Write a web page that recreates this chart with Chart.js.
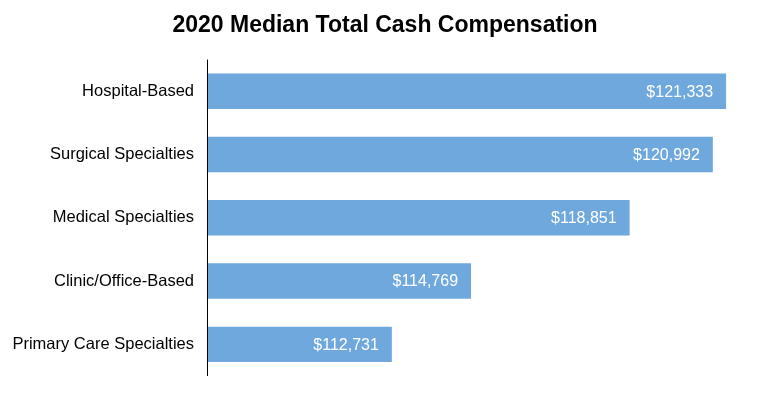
<!DOCTYPE html>
<html>
<head>
<meta charset="utf-8">
<script src="https://cdn.jsdelivr.net/npm/chart.js@4/dist/chart.umd.min.js"></script>
<style>
html,body{margin:0;padding:0;background:#fff;overflow:hidden;}
canvas{display:block;}
</style>
</head>
<body>
<canvas id="c" width="770" height="394" style="width:770px;height:394px"></canvas>
<script>
const categories = ["Hospital-Based", "Surgical Specialties", "Medical Specialties", "Clinic/Office-Based", "Primary Care Specialties"];
const medianComp = [121333, 120992, 118851, 114769, 112731];
const axisMin = 108000;
const axisMax = 122000;
const titleText = "2020 Median Total Cash Compensation";

const FONT = "'Liberation Sans', Arial, sans-serif";

const labelPlugin = {
  id: 'valueLabels',
  afterLayout(chart) {
    // centre the title across the whole canvas
    const tb = chart.titleBlock;
    if (tb) { tb.left = 0; tb.right = chart.width; tb.width = chart.width; }
  },
  afterDatasetsDraw(chart) {
    const ctx = chart.ctx;
    const meta = chart.getDatasetMeta(0);
    ctx.save();
    ctx.font = "16px " + FONT;
    ctx.fillStyle = "#ffffff";
    ctx.textAlign = "right";
    ctx.textBaseline = "middle";
    meta.data.forEach((bar, i) => {
      const v = chart.data.datasets[0].data[i];
      ctx.fillText("$" + v.toLocaleString("en-US"), bar.x - 13, bar.y + 1);
    });
    // redraw category axis line on top of the bars
    const ys = chart.scales.y;
    const x = Math.round(ys.right) - 0.5;
    ctx.strokeStyle = "#000";
    ctx.lineWidth = 1;
    ctx.beginPath();
    ctx.moveTo(x, ys.top);
    ctx.lineTo(x, ys.bottom);
    ctx.stroke();
    ctx.restore();
  }
};

new Chart(document.getElementById('c'), {
  type: 'bar',
  data: {
    labels: categories,
    datasets: [{
      data: medianComp,
      backgroundColor: 'rgb(111,168,220)',
      borderWidth: 0,
      barPercentage: 0.56,
      categoryPercentage: 1.0
    }]
  },
  options: {
    indexAxis: 'y',
    responsive: false,
    maintainAspectRatio: false,
    devicePixelRatio: 1,
    animation: false,
    layout: { padding: { left: 0, right: 18, top: 0, bottom: 18 } },
    plugins: {
      legend: { display: false },
      tooltip: { enabled: false },
      title: {
        display: true,
        text: titleText,
        color: '#000',
        font: { family: FONT, size: 23, weight: 'bold' },
        padding: { top: 12, bottom: 20 }
      }
    },
    scales: {
      x: {
        display: false,
        min: axisMin,
        max: axisMax
      },
      y: {
        grid: { display: false, drawTicks: false },
        border: { display: false },
        ticks: {
          color: '#000',
          padding: 14,
          font: { family: FONT, size: 16.5 }
        },
        afterFit(scale) {
          scale.width = 208;
          scale.paddingTop = 0;
          scale.paddingBottom = 0;
        }
      }
    }
  },
  plugins: [labelPlugin]
});
</script>
</body>
</html>
